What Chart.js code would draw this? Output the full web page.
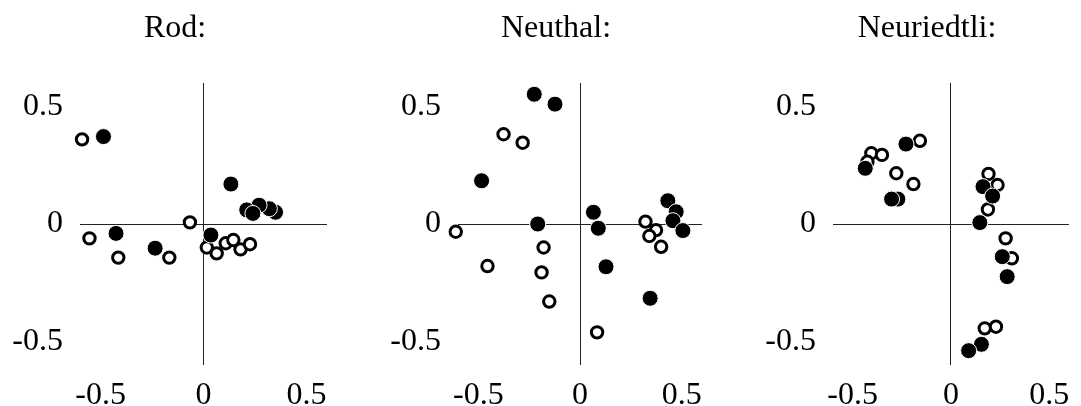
<!DOCTYPE html>
<html>
<head>
<meta charset="utf-8">
<script src="https://cdn.jsdelivr.net/npm/chart.js@4"></script>
<style>
  body { margin: 0; background: #fff; }
  #wrap { position: relative; width: 1081px; height: 406px; overflow: hidden; }
  canvas { position: absolute; top: 0; }
</style>
</head>
<body>
<div id="wrap">
  <canvas id="c1" width="340" height="406" style="left:0px"></canvas>
  <canvas id="c2" width="335" height="406" style="left:380px"></canvas>
  <canvas id="c3" width="326" height="406" style="left:755px"></canvas>
</div>
<script>
// axis ticks shared by all three panels
const tickValues = [-0.5, 0, 0.5];

// Rod: [x, y]
const rodOpen = [[-0.59, 0.36], [-0.554, -0.061], [-0.414, -0.143], [-0.166, -0.143], [-0.066, 0.007],
  [0.016, -0.1], [0.064, -0.125], [0.108, -0.082], [0.145, -0.068], [0.18, -0.108], [0.226, -0.086]];
const rodFilled = [[-0.486, 0.372], [-0.425, -0.04], [-0.235, -0.103], [0.036, -0.047], [0.133, 0.17],
  [0.35, 0.05], [0.32, 0.065], [0.27, 0.08], [0.21, 0.06], [0.24, 0.045]];

// Neuthal:
const neuOpen = [[-0.376, 0.382], [-0.282, 0.346], [-0.611, -0.033], [-0.179, -0.1], [-0.455, -0.179],
  [-0.189, -0.206], [-0.151, -0.33], [0.084, -0.461], [0.322, 0.01], [0.374, -0.026], [0.341, -0.051], [0.399, -0.097]];
const neuFilled = [[-0.225, 0.552], [-0.123, 0.51], [-0.484, 0.184], [-0.208, 0], [0.066, 0.05],
  [0.09, -0.018], [0.128, -0.182], [0.345, -0.316], [0.432, 0.099], [0.473, 0.052], [0.457, 0.014], [0.506, -0.028]];

// Neuriedtli:
const nrdOpen = [[-0.405, 0.301], [-0.351, 0.294], [-0.425, 0.265], [-0.158, 0.354], [-0.278, 0.216],
  [-0.191, 0.17], [0.191, 0.213], [0.237, 0.166], [0.188, 0.062], [0.278, -0.061], [0.31, -0.146],
  [0.172, -0.444], [0.229, -0.437]];
const nrdFilled = [[-0.436, 0.237], [-0.229, 0.34], [-0.27, 0.106], [-0.302, 0.106], [0.163, 0.159],
  [0.212, 0.119], [0.147, 0.006], [0.261, -0.139], [0.286, -0.224], [0.155, -0.512], [0.09, -0.539]];

const serif = 'Liberation Serif, Times New Roman, serif';

function toPts(arr) {
  return arr.map(p => ({x: p[0], y: p[1]}));
}

// panel heading, drawn at a fixed x so it can sit off-centre like the original
const headPlugin = {
  id: 'head',
  afterDraw(chart, args, opts) {
    const ctx = chart.ctx;
    ctx.save();
    ctx.font = '32px ' + serif;
    ctx.fillStyle = '#000';
    ctx.textAlign = 'center';
    ctx.textBaseline = 'middle';
    ctx.fillText(opts.text, opts.x, 29);
    ctx.restore();
  }
};

function axis(isX, sizeFix, pad) {
  return {
    type: 'linear',
    min: -0.6,
    max: 0.6,
    afterBuildTicks: s => { s.ticks = tickValues.map(v => ({value: v})); },
    afterFit: s => { if (isX) s.height = sizeFix; else s.width = sizeFix; },
    border: {display: false},
    grid: {
      drawTicks: false,
      lineWidth: 1,
      color: c => (c.tick && c.tick.value === 0) ? '#222' : 'rgba(0,0,0,0)'
    },
    ticks: {
      padding: pad,
      color: '#000',
      maxRotation: 0,
      font: {family: serif, size: 32},
      callback: v => String(v)
    }
  };
}

function drawPanel(id, title, titleX, open, filled, padR, yWidth) {
  new Chart(document.getElementById(id), {
    type: 'scatter',
    data: {
      datasets: [
        {
          data: toPts(filled),
          pointRadius: 8,
          pointBackgroundColor: '#000',
          pointBorderColor: '#fff',
          pointBorderWidth: 1,
          clip: false,
          order: 0
        },
        {
          data: toPts(open),
          pointRadius: 5.7,
          pointBackgroundColor: '#fff',
          pointBorderColor: '#000',
          pointBorderWidth: 3,
          clip: false,
          order: 1
        }
      ]
    },
    options: {
      responsive: false,
      animation: false,
      events: [],
      layout: {padding: {left: 0, right: padR, top: 83, bottom: 0}},
      plugins: {
        legend: {display: false},
        tooltip: {enabled: false},
        head: {text: title, x: titleX}
      },
      scales: {
        x: axis(true, 41, 11),
        y: axis(false, yWidth, 17)
      }
    },
    plugins: [headPlugin]
  });
}

drawPanel('c1', 'Rod:', 175, rodOpen, rodFilled, 13, 80);
drawPanel('c2', 'Neuthal:', 176, neuOpen, neuFilled, 13, 78);
drawPanel('c3', 'Neuriedtli:', 172, nrdOpen, nrdFilled, 3, 78);
</script>
</body>
</html>
